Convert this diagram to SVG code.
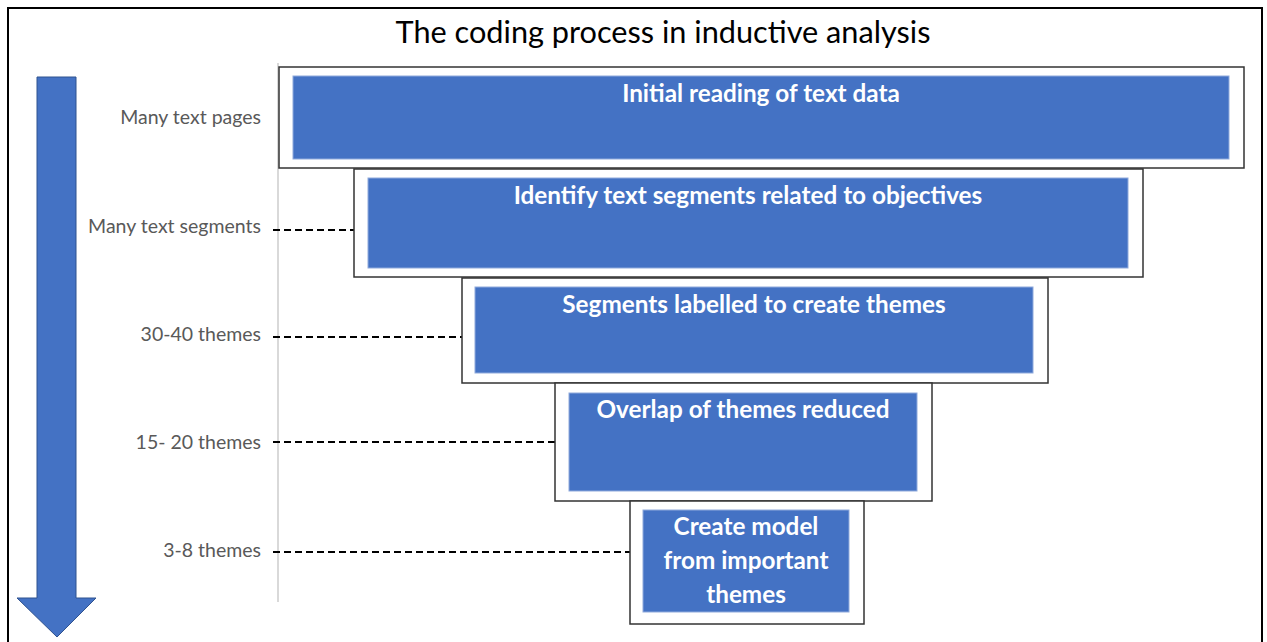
<svg xmlns="http://www.w3.org/2000/svg" width="1267" height="642" viewBox="0 0 1267 642">
<style>
.outer{fill:#fff;stroke:#333;stroke-width:1.5}
.inner{fill:#4472C4;stroke:#8FAADC;stroke-width:1}
.bt{font-family:Lato,"Open Sans",sans-serif;font-weight:bold;font-size:24.3px;fill:#fff;text-anchor:middle}
.lb{font-family:Lato,"Open Sans",sans-serif;font-size:19.5px;fill:#595959;text-anchor:end}
.dash{stroke:#000;stroke-width:2;stroke-dasharray:7,4;fill:none}
</style>
<rect x="0" y="0" width="1267" height="642" fill="#fff"/>
<rect x="8" y="8" width="1254" height="640" fill="none" stroke="#000" stroke-width="2"/>
<text x="663" y="43" font-family="Lato,'Open Sans',sans-serif" font-size="30.7" fill="#000" text-anchor="middle">The coding process in inductive analysis</text>
<g id="arrow">
<path d="M37,77 H76 V598 H96 L57,637 L17,598 H37 Z" fill="#4472C4" stroke="#2F528F" stroke-width="1"/>
</g>
<line x1="278" y1="63" x2="278" y2="602" stroke="#D9D9D9" stroke-width="2"/>
<g id="connectors">
<line class="dash" x1="273" y1="230" x2="354" y2="230"/>
<line class="dash" x1="273" y1="337" x2="462" y2="337"/>
<line class="dash" x1="273" y1="442" x2="555" y2="442"/>
<line class="dash" x1="273" y1="552" x2="630" y2="552"/>
</g>
<g id="labels">
<text class="lb" x="261" y="124">Many text pages</text>
<text class="lb" x="261" y="233">Many text segments</text>
<text class="lb" x="261" y="341">30-40 themes</text>
<text class="lb" x="261" y="449">15- 20 themes</text>
<text class="lb" x="261" y="557">3-8 themes</text>
</g>
<g id="step1">
<rect class="outer" x="279" y="67" width="965" height="101"/>
<rect class="inner" x="293" y="76" width="936" height="83"/>
<text class="bt" x="761" y="102">Initial reading of text data</text>
</g>
<g id="step2">
<rect class="outer" x="354" y="169" width="789" height="108"/>
<rect class="inner" x="368" y="178" width="760" height="90"/>
<text class="bt" x="748" y="204">Identify text segments related to objectives</text>
</g>
<g id="step3">
<rect class="outer" x="462" y="278" width="586" height="105"/>
<rect class="inner" x="475" y="287" width="558" height="86"/>
<text class="bt" x="754" y="313">Segments labelled to create themes</text>
</g>
<g id="step4">
<rect class="outer" x="555" y="383" width="377" height="118"/>
<rect class="inner" x="569" y="393" width="348" height="98"/>
<text class="bt" x="743" y="418">Overlap of themes reduced</text>
</g>
<g id="step5">
<rect class="outer" x="630" y="501" width="234" height="123"/>
<rect class="inner" x="643" y="510" width="206" height="102"/>
<text class="bt" x="746" y="535">Create model</text>
<text class="bt" x="746" y="569">from important</text>
<text class="bt" x="746" y="603">themes</text>
</g>
</svg>
